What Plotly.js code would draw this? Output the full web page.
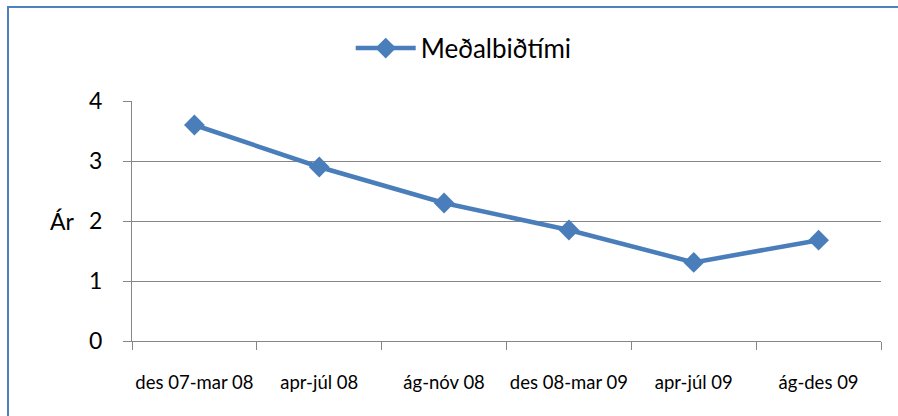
<!DOCTYPE html>
<html><head><meta charset="utf-8">
<script src="https://cdn.plot.ly/plotly-3.0.1.min.js"></script>
<style>
html,body{margin:0;padding:0;background:#fff;}
#wrap{position:relative;width:898px;height:416px;overflow:hidden;}
#frame{position:absolute;left:7px;top:6px;width:900px;height:420px;border-left:2px solid #4F81BD;border-top:2px solid #4F81BD;box-sizing:border-box;pointer-events:none;z-index:5;}
#chart{position:absolute;left:0;top:0;width:898px;height:416px;}
</style></head>
<body><div id="wrap"><div id="chart"></div><div id="frame"></div></div>
<script>
const categories = ["des 07-mar 08", "apr-júl 08", "ág-nóv 08", "des 08-mar 09", "apr-júl 09", "ág-des 09"];
const values = [3.6, 2.9, 2.3, 1.85, 1.31, 1.68];
const seriesName = "Meðalbiðtími";
const yTicks = [0, 1, 2, 3, 4];
const yTitle = "Ár";

const font = "Lato, 'Open Sans', sans-serif";
const trace = {
  x: categories, y: values, name: seriesName, type: "scatter", mode: "lines+markers",
  line: {color: "#4A7EBB", width: 4.5},
  marker: {symbol: "diamond", size: 16, color: "#4A7EBB"},
  showlegend: true
};
const layout = {
  width: 898, height: 416,
  margin: {l: 132, r: 17, t: 101, b: 75},
  paper_bgcolor: "#fff", plot_bgcolor: "#fff",
  font: {family: font, color: "#000"},
  showlegend: true,
  legend: {orientation: "h", x: 0.292, xanchor: "left", y: 1.22, yanchor: "middle",
    font: {size: 26, family: font}, itemwidth: 60},
  xaxis: {type: "category", range: [-0.5, 5.5], tickson: "boundaries", ticks: "outside",
    ticklen: 8, tickcolor: "#868686", showline: true, linecolor: "#868686", linewidth: 1,
    showgrid: false, zeroline: false, tickfont: {size: 18.5, family: font}, tickangle: 0,
    ticklabelstandoff: 25, fixedrange: true},
  yaxis: {range: [0, 4], tickvals: yTicks, ticks: "outside", ticklen: 8, tickcolor: "#868686",
    showline: true, linecolor: "#868686", linewidth: 1, showgrid: true, gridcolor: "#868686",
    gridwidth: 1, zeroline: false, tickfont: {size: 23, family: font}, ticklabelstandoff: 16,
    fixedrange: true},
  annotations: [{text: yTitle, xref: "paper", yref: "paper", x: (62 - 132) / 749, y: 0.5,
    xanchor: "center", yanchor: "middle", showarrow: false, font: {size: 23, family: font}}]
};
Plotly.newPlot("chart", [trace], layout, {displayModeBar: false, staticPlot: true});
</script></body></html>
